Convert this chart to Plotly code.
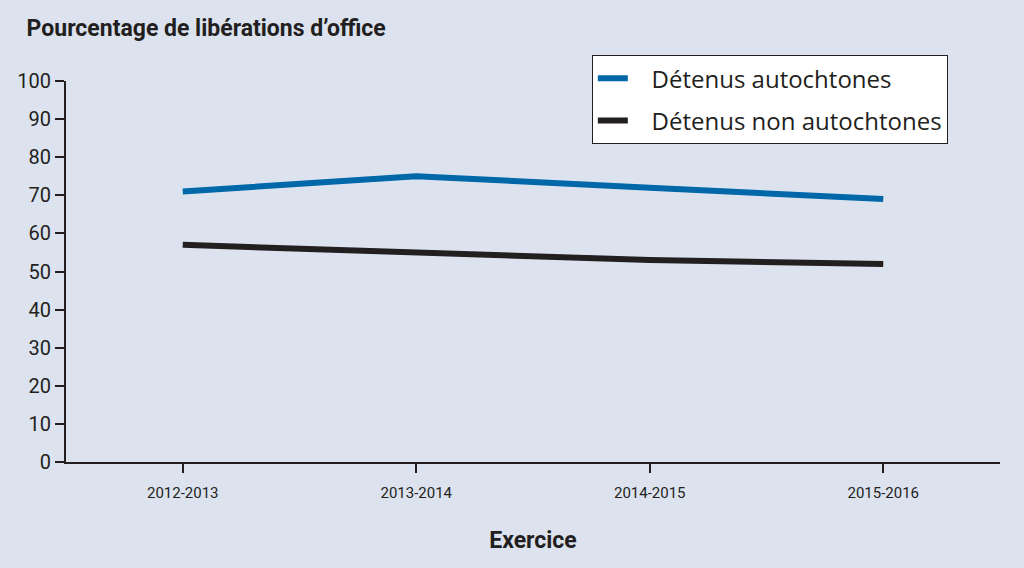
import plotly.graph_objects as go

# exercices (fiscal years)
exercices = ["2012-2013", "2013-2014", "2014-2015", "2015-2016"]
autochtones = [71, 75, 72, 69]
non_autochtones = [57, 55, 53, 52]
y_ticks = [0, 10, 20, 30, 40, 50, 60, 70, 80, 90, 100]

BG = "#dce3ef"
BLUE = "#0067a8"
BLACK = "#231f20"
FONT = "Roboto, sans-serif"
PAD = "\u00a0\u00a0\u00a0"  # nudges legend text right of the swatch

fig = go.Figure()
fig.add_trace(go.Scatter(
    x=exercices, y=autochtones, mode="lines", name=PAD + "Détenus autochtones",
    legendgroup="a", line=dict(color=BLUE, width=6)))
fig.add_trace(go.Scatter(
    x=exercices, y=non_autochtones, mode="lines", name=PAD + "Détenus non autochtones",
    legendgroup="b", line=dict(color=BLACK, width=6)))

fig.update_layout(
    width=1024, height=568,
    paper_bgcolor=BG, plot_bgcolor=BG,
    margin=dict(l=66, r=24, t=81, b=106),
    title=dict(text="<b>Pourcentage de libérations d’office</b>",
               font=dict(family=FONT, size=23, color=BLACK),
               xref="container", x=0.026, xanchor="left",
               yref="container", y=1 - 28 / 568, yanchor="middle"),
    legend=dict(x=0.563, y=1.068, xanchor="left", yanchor="top",
                bgcolor="white", bordercolor=BLACK, borderwidth=1,
                font=dict(family="Open Sans, sans-serif", size=24, color=BLACK),
                itemwidth=30, tracegroupgap=8),
)
fig.update_xaxes(
    range=[-0.5, 3.5], showgrid=False, zeroline=False,
    showline=True, linecolor=BLACK, linewidth=2,
    ticks="outside", ticklen=9, tickwidth=2, tickcolor=BLACK,
    ticklabelstandoff=7,
    tickfont=dict(family=FONT, size=15, color=BLACK),
    title=dict(text="<b>Exercice</b>", font=dict(family=FONT, size=23, color=BLACK),
               standoff=31))
fig.update_yaxes(
    range=[0, 100], tickvals=y_ticks, showgrid=False, zeroline=False,
    showline=True, linecolor=BLACK, linewidth=2,
    ticks="outside", ticklen=9, tickwidth=2, tickcolor=BLACK,
    tickfont=dict(family=FONT, size=20, color=BLACK))

fig.write_html("out.html", config={"displayModeBar": False},
               post_script="document.body.style.margin='0';")
